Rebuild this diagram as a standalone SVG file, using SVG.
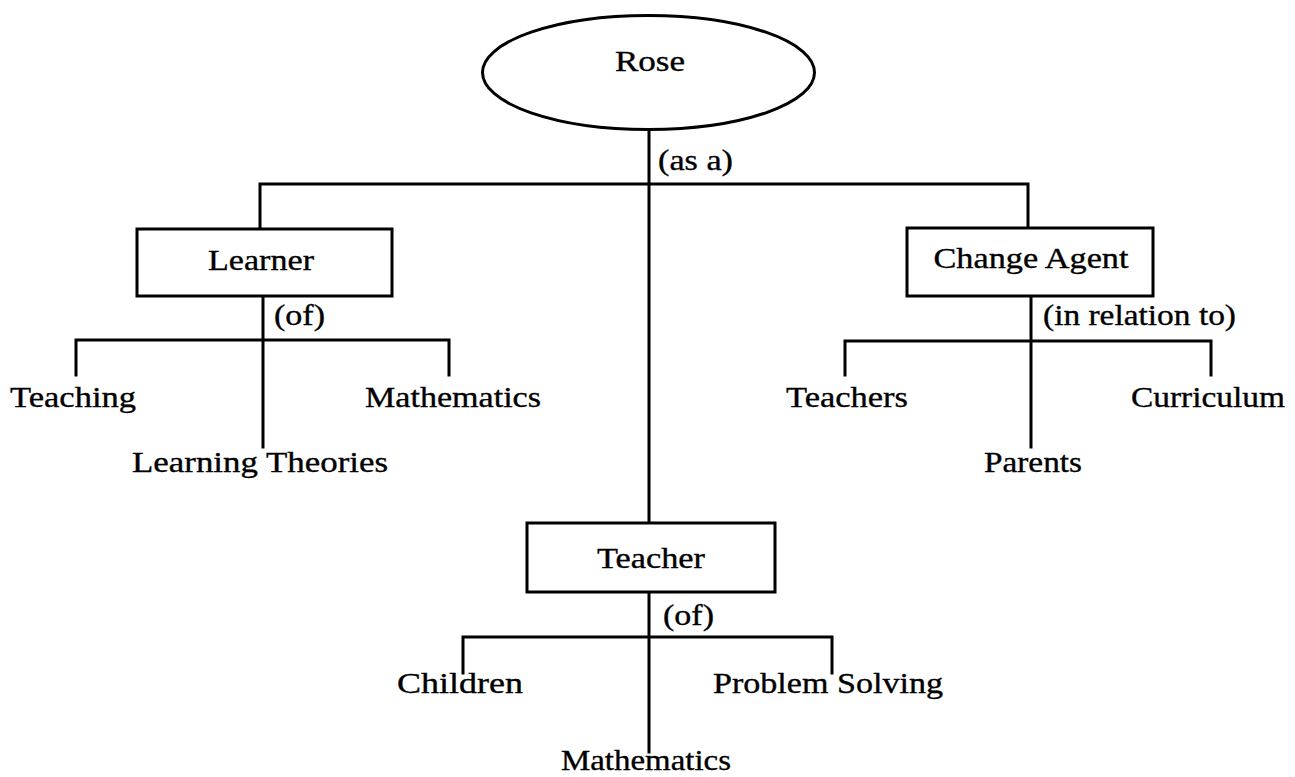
<svg xmlns="http://www.w3.org/2000/svg" width="1295" height="777" viewBox="0 0 1295 777">
<style>
.ln{stroke:#000;stroke-width:3;fill:none;stroke-linecap:square}
.bx{stroke:#000;stroke-width:3;fill:#fff}
text{font-family:"Liberation Serif","Times New Roman",serif;font-size:30px;fill:#000;stroke:#000;stroke-width:0.35}
.c{text-anchor:middle}
</style>
<rect width="1295" height="777" fill="#fff"/>
<g id="connectors">
<line class="ln" x1="649" y1="130" x2="649" y2="752"/>
<polyline class="ln" points="260,229 260,184 1028,184 1028,228"/>
<line class="ln" x1="263" y1="296" x2="263" y2="447"/>
<polyline class="ln" points="76,375 76,340 449,340 449,375"/>
<line class="ln" x1="1031" y1="296" x2="1031" y2="447"/>
<polyline class="ln" points="845,375 845,341 1211,341 1211,375"/>
<polyline class="ln" points="463,673 463,637 832,637 832,673"/>
<text x="658" y="170" textLength="75" lengthAdjust="spacingAndGlyphs">(as a)</text>
<text x="274" y="325" textLength="51" lengthAdjust="spacingAndGlyphs">(of)</text>
<text x="1043" y="325" textLength="193" lengthAdjust="spacingAndGlyphs">(in relation to)</text>
<text x="663" y="625" textLength="51" lengthAdjust="spacingAndGlyphs">(of)</text>
</g>
<g id="rose">
<ellipse class="bx" cx="648.5" cy="72.5" rx="166" ry="57"/>
<text class="c" x="650" y="71" textLength="70" lengthAdjust="spacingAndGlyphs">Rose</text>
</g>
<g id="learner">
<rect class="bx" x="137" y="229" width="255" height="67"/>
<text class="c" x="261" y="270" textLength="106" lengthAdjust="spacingAndGlyphs">Learner</text>
</g>
<g id="change-agent">
<rect class="bx" x="907" y="228" width="246" height="68"/>
<text class="c" x="1031" y="268" textLength="195" lengthAdjust="spacingAndGlyphs">Change Agent</text>
</g>
<g id="teacher">
<rect class="bx" x="527" y="523" width="248" height="69"/>
<text class="c" x="651" y="568" textLength="108" lengthAdjust="spacingAndGlyphs">Teacher</text>
</g>
<g id="teaching"><text x="10" y="407" textLength="126" lengthAdjust="spacingAndGlyphs">Teaching</text></g>
<g id="learning-theories"><text x="132" y="472" textLength="256" lengthAdjust="spacingAndGlyphs">Learning Theories</text></g>
<g id="mathematics-1"><text x="365" y="407" textLength="176" lengthAdjust="spacingAndGlyphs">Mathematics</text></g>
<g id="teachers"><text x="786" y="407" textLength="122" lengthAdjust="spacingAndGlyphs">Teachers</text></g>
<g id="parents"><text class="c" x="1033" y="472" textLength="98" lengthAdjust="spacingAndGlyphs">Parents</text></g>
<g id="curriculum"><text x="1131" y="407" textLength="154" lengthAdjust="spacingAndGlyphs">Curriculum</text></g>
<g id="children"><text x="397" y="693" textLength="126" lengthAdjust="spacingAndGlyphs">Children</text></g>
<g id="mathematics-2"><text class="c" x="646" y="770" textLength="170" lengthAdjust="spacingAndGlyphs">Mathematics</text></g>
<g id="problem-solving"><text x="713" y="693" textLength="230" lengthAdjust="spacingAndGlyphs">Problem Solving</text></g>
</svg>
